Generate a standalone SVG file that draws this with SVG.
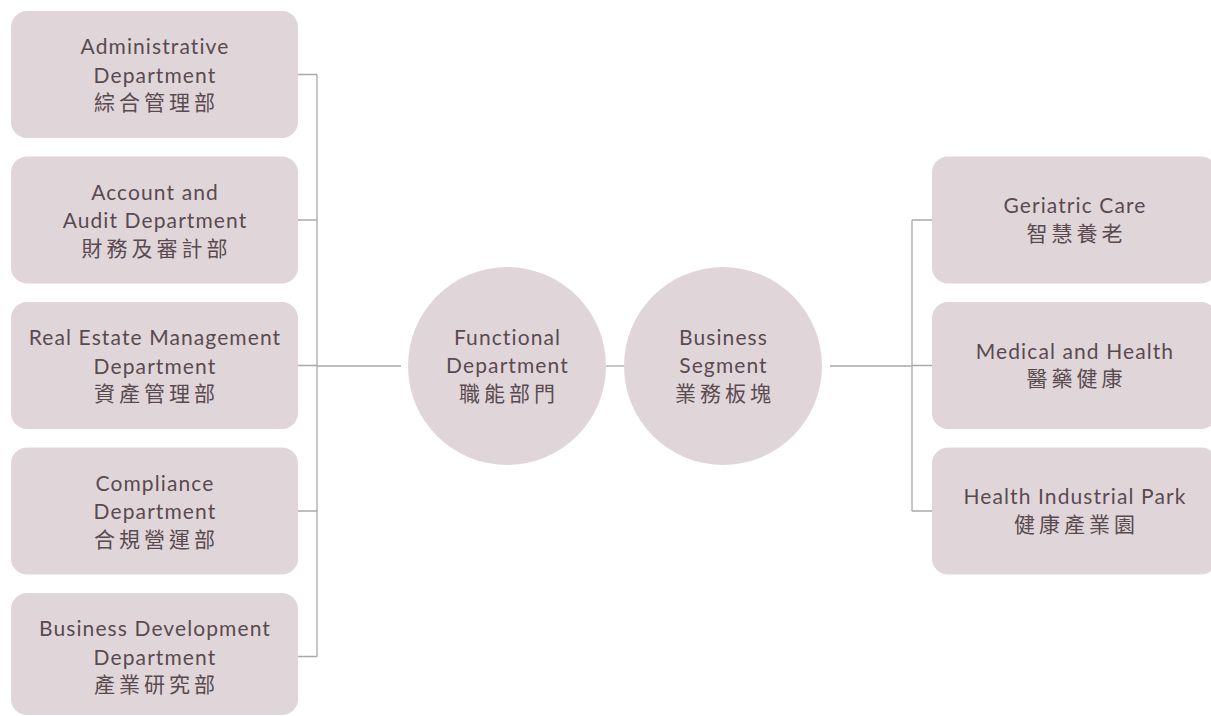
<svg xmlns="http://www.w3.org/2000/svg" width="1211" height="716" viewBox="0 0 1211 716">
<style>
.box{fill:#e0d6da;}
.t{font-family:Lato,"Noto Sans","Noto Sans CJK TC",sans-serif;font-size:21px;fill:#5a4a50;text-anchor:middle;letter-spacing:1.1px;}
.c{font-family:"Noto Sans CJK TC","Noto Sans CJK SC",sans-serif;font-size:21px;fill:#5a4a50;text-anchor:middle;letter-spacing:4px;}
.ln{stroke:#a9a9a9;stroke-width:1.3;fill:none;}
</style>
<rect width="1211" height="716" fill="#ffffff"/>
<g id="connectors">
<path class="ln" d="M298 74.5H317M298 220H317M298 365.5H317M298 511H317M298 656.5H317M317 74.5V656.5M317 366H401"/>
<path class="ln" d="M606 366H624"/>
<path class="ln" d="M830 366H912M912 220V511M912 220H932M912 365.5H932M912 511H932"/>
</g>
<g id="n-admin">
<rect class="box" x="11" y="11" width="287" height="127" rx="16"/>
<text class="t" x="155" y="54">Administrative</text>
<text class="t" x="155" y="82.5">Department</text>
<text class="c" x="156.5" y="110">綜合管理部</text>
</g>
<g id="n-account">
<rect class="box" x="11" y="156.5" width="287" height="127" rx="16"/>
<text class="t" x="155" y="199.5">Account and</text>
<text class="t" x="155" y="228">Audit Department</text>
<text class="c" x="156.5" y="255.5">財務及審計部</text>
</g>
<g id="n-realestate">
<rect class="box" x="11" y="302" width="287" height="127" rx="16"/>
<text class="t" x="155" y="345">Real Estate Management</text>
<text class="t" x="155" y="373.5">Department</text>
<text class="c" x="156.5" y="401">資產管理部</text>
</g>
<g id="n-compliance">
<rect class="box" x="11" y="447.5" width="287" height="127" rx="16"/>
<text class="t" x="155" y="490.5">Compliance</text>
<text class="t" x="155" y="519">Department</text>
<text class="c" x="156.5" y="546.5">合規營運部</text>
</g>
<g id="n-bizdev">
<rect class="box" x="11" y="593" width="287" height="122" rx="16"/>
<text class="t" x="155" y="636">Business Development</text>
<text class="t" x="155" y="664.5">Department</text>
<text class="c" x="156.5" y="692">產業研究部</text>
</g>
<g id="n-functional">
<circle class="box" cx="507" cy="366" r="99"/>
<text class="t" x="507.5" y="344.5">Functional</text>
<text class="t" x="507.5" y="373">Department</text>
<text class="c" x="509" y="400.5">職能部門</text>
</g>
<g id="n-business">
<circle class="box" cx="723" cy="366" r="99"/>
<text class="t" x="723.5" y="344.5">Business</text>
<text class="t" x="723.5" y="373">Segment</text>
<text class="c" x="725" y="400.5">業務板塊</text>
</g>
<g id="n-geriatric">
<rect class="box" x="932" y="156.5" width="285" height="127" rx="16"/>
<text class="t" x="1075" y="213">Geriatric Care</text>
<text class="c" x="1076.5" y="240.5">智慧養老</text>
</g>
<g id="n-medical">
<rect class="box" x="932" y="302" width="285" height="127" rx="16"/>
<text class="t" x="1075" y="358.5">Medical and Health</text>
<text class="c" x="1076.5" y="386">醫藥健康</text>
</g>
<g id="n-park">
<rect class="box" x="932" y="447.5" width="285" height="127" rx="16"/>
<text class="t" x="1075" y="504">Health Industrial Park</text>
<text class="c" x="1076.5" y="531.5">健康產業園</text>
</g>
</svg>
